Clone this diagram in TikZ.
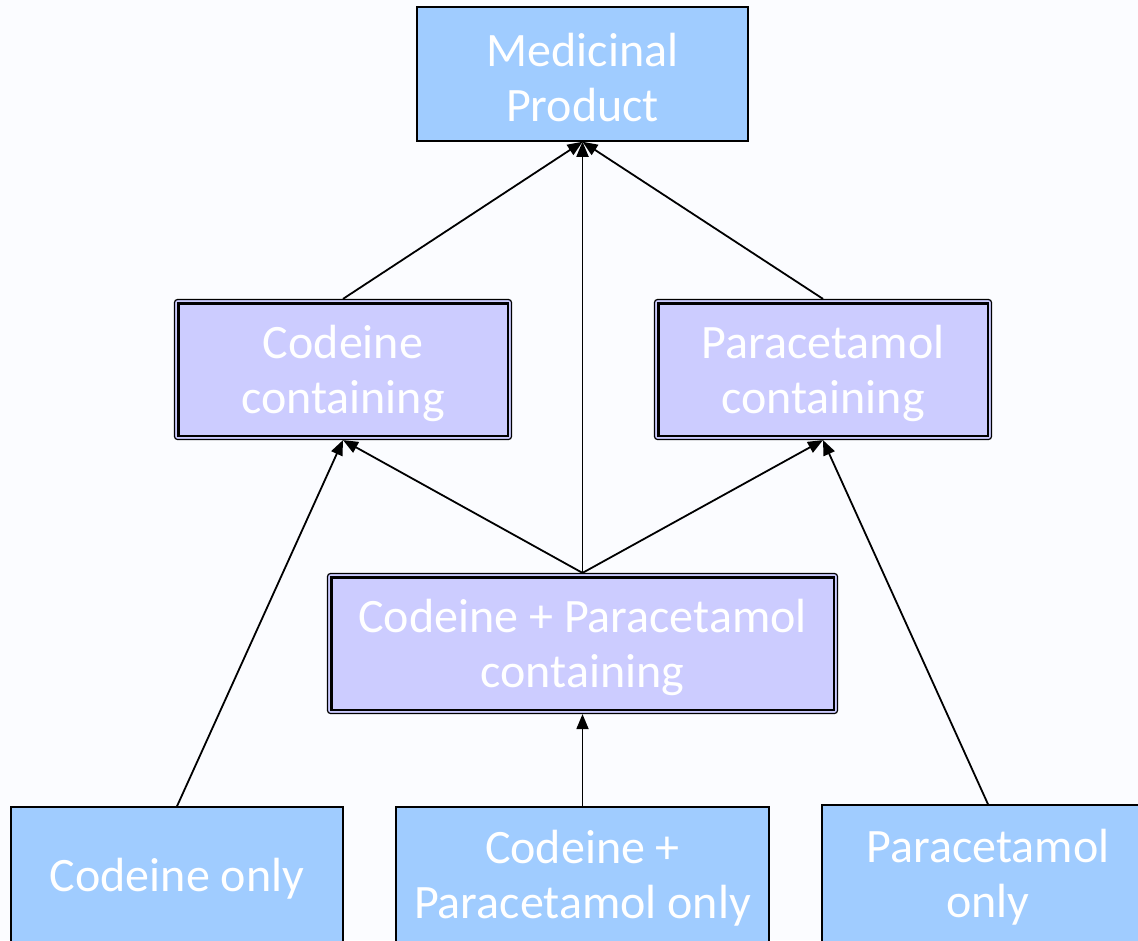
\documentclass[tikz,border=0pt]{standalone}
\usepackage{fontspec}
\setmainfont{Carlito}
\usetikzlibrary{arrows.meta,calc}
\definecolor{bg}{RGB}{251,252,255}
\definecolor{pblue}{RGB}{160,204,255}
\definecolor{plav}{RGB}{204,204,255}
\begin{document}
\begin{tikzpicture}[x=1pt,y=-1pt,
  font=\fontsize{48}{55}\selectfont,
  boxtext/.style={text=white, align=center, inner sep=0pt, yshift=-4pt},
  pbox/.style={rectangle, draw=black, line width=1.5pt, fill=pblue, inner sep=0pt},
  cbox/.style={rectangle, rounded corners=3pt, draw=black, line width=1.2pt, fill=plav, inner sep=0pt},
  inner/.style={draw=black, line width=2.2pt},
  arr/.style={-{Triangle[length=15pt,width=12pt]}, line width=1.8pt}]
\fill[bg] (0,0) rectangle (1138,940);
\useasboundingbox (0,0) rectangle (1138,940);

\node[pbox, minimum width=331pt, minimum height=134pt] (mp) at (582.5,74) {};
\node[boxtext] (mpt) at (mp.center) {Medicinal\\Product};

\node[cbox, minimum width=337pt, minimum height=140pt] (cc) at (343,369.5) {};
\node[cbox, minimum width=337pt, minimum height=140pt] (pc) at (823,369.5) {};
\node[cbox, minimum width=510pt, minimum height=140pt] (cpc) at (582.5,643.5) {};
\foreach \n in {cc,pc,cpc}{
  \draw[inner] ($(\n.north west)+(4.5,4.5)$) rectangle ($(\n.south east)+(-4.5,-4.5)$);
}
\node[boxtext] (cct) at (cc.center) {Codeine\\containing};
\node[boxtext] (pct) at (pc.center) {Paracetamol\\containing};
\node[boxtext] (cpct) at (cpc.center) {Codeine + Paracetamol\\containing};

\node[pbox, minimum width=332pt, minimum height=135pt] (co) at (177,874.5) {};
\node[pbox, minimum width=373pt, minimum height=135pt] (cpo) at (582.5,874.5) {};
\node[pbox, minimum width=332pt, minimum height=137pt] (po) at (988,873.5) {};
\node[boxtext] (cot) at (co.center) {Codeine only};
\node[boxtext] (cpot) at (cpo.center) {Codeine +\\Paracetamol only};
\node[boxtext] (pot) at (po.center) {Paracetamol\\only};

\draw[arr] (cc.north) -- (mp.south);
\draw[arr] (pc.north) -- (mp.south);
\draw[arr] (cpc.north) -- (mp.south);
\draw[arr] (cpc.north) -- (cc.south);
\draw[arr] (cpc.north) -- (pc.south);
\draw[arr] (co.north) -- (cc.south);
\draw[arr] (po.north) -- (pc.south);
\draw[arr] (cpo.north) -- (cpc.south);
\end{tikzpicture}
\end{document}
